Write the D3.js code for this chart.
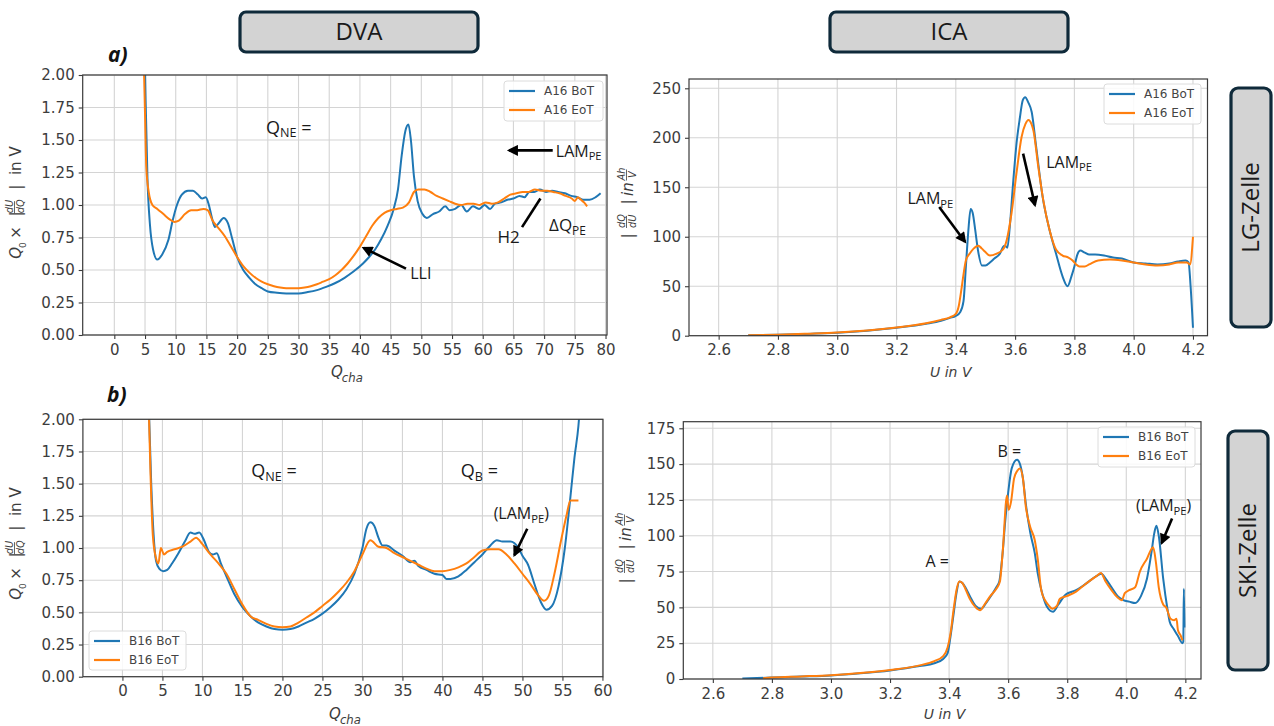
<!DOCTYPE html>
<html><head><meta charset="utf-8">
<script src="https://cdn.jsdelivr.net/npm/d3@7"></script>
<style>body{margin:0;background:#fff}svg{display:block}</style>
</head><body>
<svg id="c" width="1274" height="726"></svg>
<script>
// ---------------- DATA ----------------
// DVA, LG cell (A16), x = Q_cha, y = Q0*|dU/dQ|
const dvaA16BoT = [[4.9,2.3],[5.1,1.8],[5.4,1.2],[5.8,0.85],[6.3,0.66],[7.0,0.58],[7.8,0.62],[8.8,0.73],[9.5,0.88],[10.2,1.0],[11.0,1.08],[12.0,1.11],[12.8,1.11],[13.6,1.08],[14.3,1.05],[14.9,1.06],[15.4,1.0],[15.9,0.9],[16.4,0.83],[17.0,0.86],[17.8,0.9],[18.5,0.86],[19.2,0.74],[20.0,0.6],[21.0,0.5],[22.0,0.44],[23.0,0.39],[24.0,0.36],[25.0,0.335],[26.5,0.325],[28,0.32],[30,0.32],[31.5,0.33],[33,0.345],[34.5,0.37],[36,0.4],[37.5,0.44],[39,0.49],[40.5,0.55],[41.5,0.6],[42.5,0.66],[43.5,0.74],[44.5,0.84],[45.5,0.97],[46.2,1.12],[46.8,1.38],[47.4,1.57],[47.9,1.62],[48.3,1.5],[48.8,1.22],[49.4,1.03],[50.2,0.93],[50.9,0.9],[51.9,0.93],[52.9,0.95],[53.9,0.99],[54.6,0.96],[55.5,0.97],[56.5,1.0],[57.4,0.95],[58.4,0.99],[59.4,0.97],[60.3,1.0],[61.2,0.97],[62.0,1.01],[63.0,1.02],[64.0,1.04],[65.0,1.05],[66.0,1.07],[66.8,1.06],[67.6,1.1],[68.4,1.1],[69.3,1.12],[70.3,1.1],[71.3,1.11],[72.3,1.1],[73.4,1.09],[74.4,1.07],[75.4,1.06],[76.4,1.04],[77.4,1.04],[78.4,1.06],[79.2,1.09]];
const dvaA16EoT = [[4.7,2.3],[5.0,1.7],[5.2,1.3],[5.6,1.1],[6.2,1.0],[7.0,0.97],[8.0,0.93],[9.0,0.89],[9.8,0.87],[10.5,0.88],[11.5,0.93],[12.5,0.96],[13.5,0.96],[14.5,0.97],[15.2,0.96],[16.0,0.88],[17.0,0.82],[18.0,0.76],[19.0,0.68],[20.0,0.6],[21.0,0.53],[22.0,0.48],[23.0,0.44],[24.0,0.41],[25.0,0.39],[26.0,0.375],[27.0,0.365],[28.0,0.36],[29.0,0.36],[30.0,0.36],[31.0,0.365],[32.0,0.375],[33.0,0.39],[34.0,0.41],[35.0,0.43],[36.0,0.46],[37.0,0.5],[38.0,0.55],[39.0,0.61],[40.0,0.68],[41.0,0.76],[42.0,0.84],[43.0,0.9],[44.0,0.94],[45.0,0.96],[46.0,0.97],[47.0,0.98],[48.0,1.02],[48.8,1.1],[49.5,1.12],[50.5,1.12],[51.5,1.1],[52.5,1.07],[53.5,1.05],[54.5,1.03],[55.5,1.01],[56.5,1.0],[57.5,1.01],[58.5,1.01],[59.5,1.0],[60.5,1.02],[61.5,1.01],[62.5,1.02],[63.5,1.05],[64.5,1.08],[65.5,1.09],[66.5,1.1],[67.5,1.1],[68.5,1.12],[69.5,1.11],[70.5,1.11],[71.5,1.1],[72.5,1.09],[73.5,1.07],[74.5,1.05],[75.0,1.03],[75.5,1.06],[76.0,1.04],[76.5,1.02],[77.0,0.99]];
// ICA, LG cell (A16), x = U, y = |dQ/dU|
const icaA16BoT = [[2.7,0.5],[2.8,1],[2.9,1.8],[3.0,3],[3.1,5],[3.2,8],[3.3,12],[3.35,15],[3.38,18],[3.4,20],[3.415,24],[3.426,35],[3.434,70],[3.442,105],[3.45,128],[3.457,124],[3.465,108],[3.475,86],[3.488,71],[3.5,71],[3.515,74],[3.53,78],[3.549,83],[3.56,90],[3.566,91],[3.574,89],[3.582,110],[3.594,157],[3.605,195],[3.616,220],[3.626,238],[3.634,241],[3.644,236],[3.656,226],[3.671,191],[3.693,140],[3.716,107],[3.738,83],[3.76,60],[3.777,50],[3.79,60],[3.8,70],[3.81,82],[3.82,86],[3.835,84],[3.85,82],[3.87,82],[3.9,81],[3.93,79],[3.96,78],[4.0,74],[4.04,73],[4.08,72],[4.12,73],[4.15,75],[4.175,76],[4.185,74],[4.192,50],[4.2,8]];
const icaA16EoT = [[2.7,0.5],[2.8,1],[2.9,2],[3.0,3.2],[3.1,5.2],[3.2,8.2],[3.3,12.5],[3.35,16],[3.38,18.5],[3.4,22],[3.41,30],[3.418,45],[3.426,62],[3.434,76],[3.447,83],[3.46,88],[3.476,91],[3.488,88],[3.498,85],[3.515,81],[3.538,83],[3.555,86],[3.565,90],[3.572,97],[3.588,124],[3.605,165],[3.622,201],[3.635,214],[3.645,218],[3.655,214],[3.662,207],[3.678,171],[3.695,137],[3.716,107],[3.738,87],[3.76,81],[3.78,79],[3.794,76],[3.806,72],[3.817,70],[3.835,70],[3.85,72],[3.88,76],[3.92,77],[3.96,76],[4.0,74],[4.04,72],[4.08,71],[4.12,72],[4.15,74],[4.18,74],[4.19,72],[4.2,100]];
// DVA, SKI cell (B16)
const dvaB16BoT = [[3.2,2.3],[3.6,1.5],[3.9,1.1],[4.2,0.9],[4.6,0.84],[5.1,0.82],[5.6,0.83],[6.2,0.88],[7.0,0.96],[7.8,1.05],[8.5,1.12],[9.0,1.11],[9.6,1.12],[10.2,1.06],[10.8,0.97],[11.3,0.95],[11.8,0.96],[12.3,0.88],[13.0,0.78],[14.0,0.64],[15.0,0.54],[16.0,0.47],[17.0,0.42],[18.0,0.39],[19.0,0.37],[20.0,0.365],[21.0,0.37],[22.0,0.39],[23.0,0.42],[24.0,0.45],[25.0,0.49],[26.0,0.54],[27.0,0.6],[28.0,0.68],[29.0,0.8],[30.0,1.0],[30.5,1.15],[31.0,1.2],[31.5,1.17],[32.0,1.08],[32.5,1.02],[33.0,1.02],[34.0,0.98],[35.0,0.94],[36.0,0.89],[36.5,0.9],[37.0,0.86],[38.0,0.83],[39.0,0.8],[40.0,0.79],[40.5,0.76],[41.0,0.76],[42.0,0.78],[43.0,0.83],[44.0,0.89],[45.0,0.95],[46.0,1.02],[46.8,1.06],[47.5,1.05],[48.5,1.05],[49.5,1.0],[50.0,0.94],[50.7,0.87],[51.5,0.72],[52.3,0.58],[53.0,0.52],[53.7,0.55],[54.5,0.7],[55.3,1.0],[56.0,1.4],[56.5,1.7],[57.0,1.95],[57.3,2.2]];
const dvaB16EoT = [[3.2,2.3],[3.5,1.6],[3.8,1.1],[4.2,0.92],[4.5,0.88],[4.8,1.0],[5.2,0.95],[5.6,0.97],[6.5,0.99],[7.5,1.01],[8.5,1.05],[9.2,1.08],[10.0,1.03],[11.0,0.95],[12.0,0.88],[13.0,0.8],[14.0,0.68],[15.0,0.56],[16.0,0.47],[17.0,0.44],[18.0,0.41],[19.0,0.39],[20.0,0.385],[21.0,0.39],[22.0,0.42],[23.0,0.46],[24.0,0.5],[25.0,0.55],[26.0,0.6],[27.0,0.66],[28.0,0.73],[29.0,0.82],[30.0,0.95],[31.0,1.06],[32.0,1.01],[33.0,1.0],[34.0,0.96],[35.0,0.93],[36.0,0.9],[37.0,0.87],[38.0,0.84],[39.0,0.82],[40.0,0.82],[41.0,0.83],[42.0,0.85],[43.0,0.88],[44.0,0.93],[45.0,0.98],[46.0,0.99],[47.0,0.99],[48.0,0.95],[49.0,0.88],[50.0,0.8],[51.0,0.72],[52.0,0.63],[52.7,0.59],[53.3,0.63],[54.0,0.8],[54.8,1.05],[55.5,1.25],[56.0,1.37],[57.0,1.37]];
// ICA, SKI cell (B16)
const icaB16BoT = [[2.7,0.3],[2.8,1],[2.9,1.7],[3.0,2.5],[3.1,4],[3.2,6],[3.3,9],[3.35,11],[3.38,14],[3.395,18],[3.405,30],[3.415,45],[3.425,60],[3.435,68],[3.445,67],[3.455,64],[3.47,58],[3.49,51],[3.509,49],[3.525,53],[3.545,59],[3.56,64],[3.57,68],[3.58,85],[3.59,110],[3.6,130],[3.612,147],[3.63,153],[3.64,150],[3.65,140],[3.66,122],[3.675,102],[3.69,88],[3.7,74],[3.715,60],[3.73,51],[3.752,47],[3.77,52],[3.795,59],[3.83,62],[3.86,66],[3.9,72],[3.916,73.5],[3.93,70],[3.95,64],[3.97,58],[3.99,55],[4.01,54],[4.03,53],[4.05,58],[4.07,70],[4.085,88],[4.095,102],[4.102,107],[4.11,100],[4.125,70],[4.14,48],[4.147,40],[4.16,35],[4.175,30],[4.19,25],[4.193,26],[4.195,63],[4.197,36]];
const icaB16EoT = [[2.77,0.5],[2.8,1],[2.9,1.8],[3.0,2.7],[3.1,4.2],[3.2,6.3],[3.3,9.5],[3.35,12.5],[3.38,16],[3.395,22],[3.405,32],[3.415,48],[3.425,62],[3.435,68],[3.445,67],[3.455,63],[3.47,56],[3.49,50],[3.505,48],[3.52,52],[3.54,58],[3.56,63],[3.572,68],[3.582,90],[3.596,128],[3.602,118],[3.61,124],[3.62,140],[3.63,145],[3.64,147],[3.65,140],[3.66,120],[3.675,106],[3.69,97],[3.7,84],[3.712,62],[3.725,55],[3.735,52],[3.75,49],[3.765,51],[3.775,56],[3.8,58],[3.83,61],[3.86,66],[3.9,72],[3.914,74],[3.93,68],[3.95,62],[3.97,57],[3.985,55],[3.995,60],[4.01,62],[4.03,64],[4.046,75],[4.07,84],[4.091,92],[4.1,82],[4.11,64],[4.125,52],[4.135,50],[4.15,42],[4.162,41],[4.17,42],[4.175,34],[4.185,30],[4.19,27]];

// tick labels
const dvaTopTicks = [0,5,10,15,20,25,30,35,40,45,50,55,60,65,70,75,80];
const dvaBotTicks = [0,5,10,15,20,25,30,35,40,45,50,55,60];
const dvaYTicks = [0,0.25,0.5,0.75,1.0,1.25,1.5,1.75,2.0];
const icaXTicks = [2.6,2.8,3.0,3.2,3.4,3.6,3.8,4.0,4.2];
const icaTopYTicks = [0,50,100,150,200,250];
const icaBotYTicks = [0,25,50,75,100,125,150,175];

// titles / labels
const headers = ["DVA","ICA"];
const sideLabels = ["LG-Zelle","SKI-Zelle"];
const legendA = ["A16 BoT","A16 EoT"];
const legendB = ["B16 BoT","B16 EoT"];

// --------------- DRAW ----------------
const BLUE = "#1f77b4", ORANGE = "#ff7f0e";
const TF = "'DejaVu Sans', sans-serif";
const AF = "'Open Sans', 'DejaVu Sans', sans-serif";
const svg = d3.select("#c");

const defs = svg.append("defs");
defs.append("marker").attr("id","ah").attr("viewBox","0 0 10 10")
  .attr("refX",8).attr("refY",5).attr("markerWidth",13).attr("markerHeight",11)
  .attr("markerUnits","userSpaceOnUse").attr("orient","auto")
  .append("path").attr("d","M0,0 L10,5 L0,10 z").attr("fill","#000");

let clipN = 0;
function panel(cfg){
  const x = d3.scaleLinear().domain(cfg.xdom).range([cfg.x0,cfg.x1]);
  const y = d3.scaleLinear().domain(cfg.ydom).range([cfg.y1,cfg.y0]);
  const g = svg.append("g");
  g.append("g").selectAll("line").data(cfg.xticks).join("line")
    .attr("x1",d=>x(d)).attr("x2",d=>x(d)).attr("y1",cfg.y0).attr("y2",cfg.y1)
    .attr("stroke","#d4d4d4").attr("stroke-width",1.1);
  g.append("g").selectAll("line").data(cfg.yticks).join("line")
    .attr("y1",d=>y(d)).attr("y2",d=>y(d)).attr("x1",cfg.x0).attr("x2",cfg.x1)
    .attr("stroke","#d4d4d4").attr("stroke-width",1.1);
  const ax = g.append("g").attr("transform",`translate(0,${cfg.y1})`)
    .call(d3.axisBottom(x).tickValues(cfg.xticks).tickFormat(cfg.xfmt).tickSize(4).tickPadding(5));
  const ay = g.append("g").attr("transform",`translate(${cfg.x0},0)`)
    .call(d3.axisLeft(y).tickValues(cfg.yticks).tickFormat(cfg.yfmt).tickSize(4).tickPadding(4));
  [ax,ay].forEach(a=>{
    a.select(".domain").remove();
    a.selectAll(".tick line").attr("stroke","#3a3a3a").attr("stroke-width",1.1);
    a.selectAll(".tick text").attr("font-family",TF).attr("font-size",15).attr("fill","#3d3d3d");
  });
  const id = "clip"+(clipN++);
  defs.append("clipPath").attr("id",id).append("rect")
    .attr("x",cfg.x0).attr("y",cfg.y0).attr("width",cfg.x1-cfg.x0).attr("height",cfg.y1-cfg.y0);
  const line = d3.line().x(d=>x(d[0])).y(d=>y(d[1])).curve(d3.curveMonotoneX);
  const lg = g.append("g").attr("clip-path",`url(#${id})`);
  cfg.series.forEach(s=>{
    lg.append("path").attr("d",line(s.data)).attr("fill","none")
      .attr("stroke",s.color).attr("stroke-width",2).attr("stroke-linejoin","round");
  });
  g.append("rect").attr("x",cfg.x0).attr("y",cfg.y0).attr("width",cfg.x1-cfg.x0).attr("height",cfg.y1-cfg.y0)
    .attr("fill","none").attr("stroke","#3a3a3a").attr("stroke-width",1.2);
  const L = cfg.legend;
  const lgd = g.append("g").attr("transform",`translate(${L.x},${L.y})`);
  lgd.append("rect").attr("width",L.w).attr("height",L.h).attr("rx",3)
    .attr("fill","#fff").attr("fill-opacity",0.85).attr("stroke","#dcdcdc");
  cfg.series.forEach((s,i)=>{
    const yy = 10 + i*19;
    lgd.append("line").attr("x1",5).attr("x2",31).attr("y1",yy).attr("y2",yy)
      .attr("stroke",s.color).attr("stroke-width",2.2);
    lgd.append("text").attr("x",40).attr("y",yy+4).text(s.name)
      .attr("font-family",TF).attr("font-size",12).attr("fill","#444");
  });
  return {x,y,g};
}

function rich(parent, cx, cy, rot, parts, size, color){
  const g = parent.append("g").attr("transform",`translate(${cx},${cy}) rotate(${rot})`);
  const inner = g.append("g");
  let cur = 0;
  parts.forEach(p=>{
    if(p.frac){
      const fs = size*0.66;
      const n = inner.append("text").attr("x",cur).attr("y",-size*0.2).text(p.frac[0])
        .attr("font-size",fs).attr("font-style",p.it?"italic":"normal");
      const d = inner.append("text").attr("x",cur).attr("y",size*0.52).text(p.frac[1])
        .attr("font-size",fs).attr("font-style",p.it?"italic":"normal");
      const w = Math.max(n.node().getComputedTextLength(), d.node().getComputedTextLength());
      n.attr("x",cur+(w-n.node().getComputedTextLength())/2);
      d.attr("x",cur+(w-d.node().getComputedTextLength())/2);
      inner.append("line").attr("x1",cur).attr("x2",cur+w).attr("y1",-size*0.1).attr("y2",-size*0.1)
        .attr("stroke",color).attr("stroke-width",0.8);
      cur += w + 2;
    } else {
      const fs = p.sub ? size*(p.ss||0.72) : size;
      const t = inner.append("text").attr("x",cur).attr("y",(p.sub?size*0.3:0)+size*0.35).text(p.t)
        .attr("font-size",fs).attr("font-style",p.it?"italic":"normal").attr("xml:space","preserve");
      cur += t.node().getComputedTextLength();
    }
  });
  inner.selectAll("text").attr("font-family",TF).attr("fill",color);
  inner.attr("transform",`translate(${-cur/2},0)`);
  return g;
}
function annoText(parent, px, py, parts, size){
  const t = parent.append("text").attr("x",px).attr("y",py)
    .attr("font-family",AF).attr("font-size",size).attr("fill","#1a1a1a");
  parts.forEach(p=>{
    const ts = t.append("tspan").text(p.t);
    if(p.sub){ ts.attr("font-size",size*0.7).attr("dy",size*0.22); }
    else if(p.back){ ts.attr("dy",-size*0.22); }
  });
  return t;
}
function arrow(parent, x1,y1,x2,y2, head=true){
  const l = parent.append("line").attr("x1",x1).attr("y1",y1).attr("x2",x2).attr("y2",y2)
    .attr("stroke","#000").attr("stroke-width",2.6);
  if(head) l.attr("marker-end","url(#ah)");
}

const pA = panel({x0:82.7,x1:607,y0:75,y1:335,xdom:[-5.15,80.24],ydom:[0,2],
  xticks:dvaTopTicks,yticks:dvaYTicks,xfmt:d3.format("d"),yfmt:d3.format(".2f"),
  series:[{name:legendA[0],data:dvaA16BoT,color:BLUE},{name:legendA[1],data:dvaA16EoT,color:ORANGE}],
  legend:{x:504,y:81,w:99,h:40}});
const pB = panel({x0:689,x1:1207.5,y0:79,y1:335.7,xdom:[2.5,4.249],ydom:[0,259.4],
  xticks:icaXTicks,yticks:icaTopYTicks,xfmt:d3.format(".1f"),yfmt:d3.format("d"),
  series:[{name:legendA[0],data:icaA16BoT,color:BLUE},{name:legendA[1],data:icaA16EoT,color:ORANGE}],
  legend:{x:1104,y:84,w:97,h:40}});
const pC = panel({x0:82.9,x1:603,y0:419.3,y1:676.7,xdom:[-4.94,60.07],ydom:[0,2],
  xticks:dvaBotTicks,yticks:dvaYTicks,xfmt:d3.format("d"),yfmt:d3.format(".2f"),
  series:[{name:legendB[0],data:dvaB16BoT,color:BLUE},{name:legendB[1],data:dvaB16EoT,color:ORANGE}],
  legend:{x:89,y:631,w:97,h:39}});
const pD = panel({x0:683.3,x1:1201,y0:421.7,y1:679,xdom:[2.5,4.253],ydom:[0,179.6],
  xticks:icaXTicks,yticks:icaBotYTicks,xfmt:d3.format(".1f"),yfmt:d3.format("d"),
  series:[{name:legendB[0],data:icaB16BoT,color:BLUE},{name:legendB[1],data:icaB16EoT,color:ORANGE}],
  legend:{x:1098,y:427,w:97,h:40}});

// axis labels
const dvaY = [{t:"Q",it:true},{t:"0",sub:true,ss:0.6},{t:" ×  |  "},{frac:["dU","dQ"],it:true},{t:"  |  in V"}];
const icaY = [{t:"|  "},{frac:["dQ","dU"],it:true},{t:"  |  "},{t:"in ",it:true},{frac:["Ah","V"],it:true}];
const qcha = [{t:"Q",it:true},{t:"cha",sub:true,it:true,ss:0.78}];
const uinv = [{t:"U in V",it:true}];
rich(svg,16,207,-90,dvaY,15,"#3d3d3d");
rich(svg,16,548,-90,dvaY,15,"#3d3d3d");
rich(svg,628,203,-90,icaY,15,"#3d3d3d");
rich(svg,626,548,-90,icaY,15,"#3d3d3d");
rich(svg,(82.7+607)/2,372,0,qcha,15,"#3d3d3d");
rich(svg,(82.9+603)/2,714,0,qcha,15,"#3d3d3d");
rich(svg,(689+1207.5)/2,372,0,uinv,14,"#3d3d3d");
rich(svg,(683.3+1201)/2,714,0,uinv,14,"#3d3d3d");

svg.append("text").attr("x",108).attr("y",62).text("a)").attr("font-family",AF)
  .attr("font-size",21).attr("font-weight",700).attr("font-style","italic").attr("fill","#111");
svg.append("text").attr("x",107).attr("y",402).text("b)").attr("font-family",AF)
  .attr("font-size",21).attr("font-weight",700).attr("font-style","italic").attr("fill","#111");

const hb = [{x:240,y:12,w:238,h:40},{x:830,y:12,w:238,h:40}];
hb.forEach((b,i)=>{
  svg.append("rect").attr("x",b.x).attr("y",b.y).attr("width",b.w).attr("height",b.h).attr("rx",6)
    .attr("fill","#d3d3d3").attr("stroke","#0f2a3a").attr("stroke-width",3.2);
  svg.append("text").attr("x",b.x+b.w/2).attr("y",b.y+b.h/2+8).attr("text-anchor","middle")
    .text(headers[i]).attr("font-family",AF).attr("font-size",24).attr("fill","#1a1a1a");
});
const sb = [{x:1231,y:88,w:40,h:239},{x:1228,y:431,w:40,h:239}];
sb.forEach((b,i)=>{
  svg.append("rect").attr("x",b.x).attr("y",b.y).attr("width",b.w).attr("height",b.h).attr("rx",7)
    .attr("fill","#d3d3d3").attr("stroke","#0f2a3a").attr("stroke-width",3.2);
  svg.append("text").attr("transform",`translate(${b.x+b.w/2+8},${b.y+b.h/2}) rotate(-90)`)
    .attr("text-anchor","middle").text(sideLabels[i]).attr("font-family",AF).attr("font-size",24).attr("fill","#1a1a1a");
});

// annotations (data coords)
const A = svg.append("g");
{ const x=pA.x, y=pA.y;
  annoText(A,x(24.7),y(1.55),[{t:"Q"},{t:"NE",sub:true},{t:" =",back:true}],18);
  arrow(A,x(71.4),y(1.42),x(64.3),y(1.42));
  annoText(A,x(71.9),y(1.37),[{t:"LAM"},{t:"PE",sub:true}],16);
  arrow(A,x(66.4),y(0.83),x(69.4),y(1.05),false);
  annoText(A,x(62.4),y(0.71),[{t:"H2"}],17);
  annoText(A,x(70.8),y(0.80),[{t:"ΔQ"},{t:"PE",sub:true}],17);
  arrow(A,x(47.5),y(0.51),x(40.6),y(0.67));
  annoText(A,x(48.2),y(0.43),[{t:"LLI"}],16);
}
{ const x=pB.x, y=pB.y;
  annoText(A,x(3.237),y(133),[{t:"LAM"},{t:"PE",sub:true}],16);
  arrow(A,x(3.344),y(130),x(3.431),y(95));
  annoText(A,x(3.705),y(169.5),[{t:"LAM"},{t:"PE",sub:true}],16);
  arrow(A,x(3.627),y(184),x(3.667),y(132));
}
{ const x=pC.x, y=pC.y;
  annoText(A,x(16.1),y(1.55),[{t:"Q"},{t:"NE",sub:true},{t:" =",back:true}],18);
  annoText(A,x(42.3),y(1.55),[{t:"Q"},{t:"B",sub:true},{t:" =",back:true}],18);
  annoText(A,x(46.4),y(1.225),[{t:"(LAM"},{t:"PE",sub:true},{t:")",back:true}],16);
  arrow(A,x(50.6),y(1.15),x(49.0),y(0.945));
}
{ const x=pD.x, y=pD.y;
  annoText(A,x(3.564),y(155),[{t:"B ="}],16);
  annoText(A,x(3.32),y(78),[{t:"A ="}],16);
  annoText(A,x(4.033),y(117),[{t:"(LAM"},{t:"PE",sub:true},{t:")",back:true}],16);
  arrow(A,x(4.155),y(112),x(4.12),y(95));
}
</script>
</body></html>
